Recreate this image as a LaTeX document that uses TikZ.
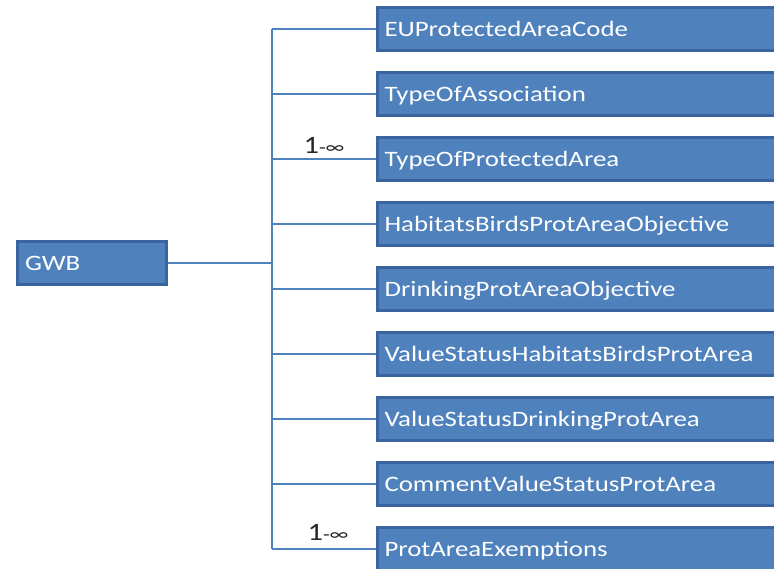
\documentclass[tikz,border=0pt]{standalone}
\usepackage{fontspec}
\setmainfont{Carlito}
\newfontfamily\boxfont[FakeStretch=1.22]{Carlito}
\definecolor{boxfill}{HTML}{4F81BD}
\definecolor{boxline}{HTML}{3A64A0}
\definecolor{conn}{HTML}{4F81BD}
\tikzset{
  attr/.style={draw=boxline, line width=3pt, fill=boxfill, text=white, anchor=west,
    minimum height=43pt, text width=398pt, inner xsep=7pt, align=left, text depth=0pt,
    font=\boxfont\fontsize{22}{24}\selectfont},
  root/.style={draw=boxline, line width=3pt, fill=boxfill, text=white,
    minimum height=43pt, text width=133pt, inner xsep=8pt, align=left, text depth=0pt,
    font=\boxfont\fontsize{22}{24}\selectfont},
  link/.style={draw=conn, line width=2.5pt},
  mult/.style={text=black!85, font=\boxfont\fontsize{25}{27}\selectfont}
}
\newcommand{\multtext}{1{\fontsize{18}{20}\selectfont-∞}}
\begin{document}
\begin{tikzpicture}[x=1pt,y=-1pt]
\useasboundingbox (0,0) rectangle (774,568);
\clip (0,0) rectangle (774,568);
\node[root] (gwb) at (91.5,263) {GWB};
\coordinate (trunk) at (272,263);
\node[attr] (a1) at (376,29) {EUProtectedAreaCode};
\node[attr] (a2) at (376,94) {TypeOfAssociation};
\node[attr] (a3) at (376,159) {TypeOfProtectedArea};
\node[attr] (a4) at (376,224) {HabitatsBirdsProtAreaObjective};
\node[attr] (a5) at (376,289) {DrinkingProtAreaObjective};
\node[attr] (a6) at (376,354) {ValueStatusHabitatsBirdsProtArea};
\node[attr] (a7) at (376,419) {ValueStatusDrinkingProtArea};
\node[attr] (a8) at (376,484) {CommentValueStatusProtArea};
\node[attr] (a9) at (376,549) {ProtAreaExemptions};
\draw[link] (gwb.east) -- (trunk);
\draw[link] (a1.west -| trunk) -- (a9.west -| trunk);
\foreach \n in {a1,a2,a3,a4,a5,a6,a7,a8,a9}
  \draw[link] (\n.west -| trunk) -- (\n.west);
\node[mult] (m1) at (324,145) {\multtext};
\node[mult] (m2) at (328,532) {\multtext};
\end{tikzpicture}
\end{document}
